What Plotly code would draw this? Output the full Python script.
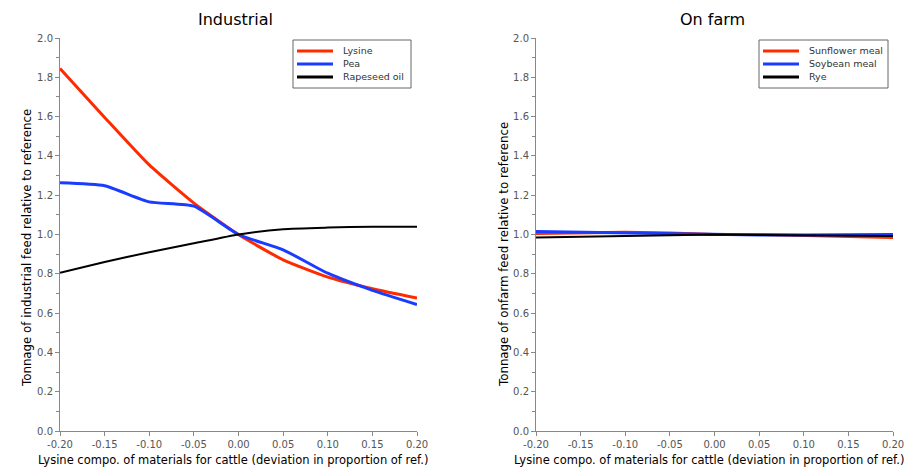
import plotly.graph_objects as go

x_vals = [-0.20, -0.15, -0.10, -0.05, 0.00, 0.05, 0.10, 0.15, 0.20]
x_ticklabels = ["-0.20", "-0.15", "-0.10", "-0.05", "0.00", "0.05", "0.10", "0.15", "0.20"]
y_tickvals = [0.0, 0.2, 0.4, 0.6, 0.8, 1.0, 1.2, 1.4, 1.6, 1.8, 2.0]
y_ticklabels = ["0.0", "0.2", "0.4", "0.6", "0.8", "1.0", "1.2", "1.4", "1.6", "1.8", "2.0"]

# Industrial
lysine = [1.845, 1.596, 1.354, 1.160, 1.000, 0.871, 0.783, 0.724, 0.677]
pea = [1.263, 1.248, 1.166, 1.144, 1.000, 0.922, 0.803, 0.716, 0.644]
rapeseed_oil = [0.805, 0.860, 0.910, 0.955, 1.000, 1.027, 1.035, 1.040, 1.040]

# On farm
sunflower_meal = [1.005, 1.010, 1.012, 1.008, 1.000, 1.000, 0.995, 0.990, 0.985]
soybean_meal = [1.015, 1.012, 1.008, 1.005, 1.000, 0.998, 0.998, 1.000, 1.000]
rye = [0.985, 0.988, 0.993, 0.997, 1.000, 0.998, 0.995, 0.993, 0.992]

RED = "#ff2a00"
BLUE = "#1a3cff"
BLACK = "#000000"
W, H = 904, 470

def px(xp):
    return xp / W

def py(yp):
    return 1 - yp / H

fig = go.Figure()
left = [("Lysine", lysine, RED, 3), ("Pea", pea, BLUE, 3), ("Rapeseed oil", rapeseed_oil, BLACK, 2)]
right = [("Sunflower meal", sunflower_meal, RED, 3), ("Soybean meal", soybean_meal, BLUE, 3), ("Rye", rye, BLACK, 2)]
for name, ys, col, w in left:
    fig.add_trace(go.Scatter(x=x_vals, y=ys, mode="lines", name=name, showlegend=False,
                             line=dict(color=col, width=w, shape="spline", smoothing=0.5),
                             xaxis="x", yaxis="y"))
for name, ys, col, w in right:
    fig.add_trace(go.Scatter(x=x_vals, y=ys, mode="lines", name=name, showlegend=False,
                             line=dict(color=col, width=w),
                             xaxis="x2", yaxis="y2"))

tickfont = dict(family="DejaVu Sans", size=10, color="#555555")

def xaxis(domain, anchor):
    return dict(domain=domain, anchor=anchor, range=[-0.2, 0.2], tickvals=x_vals, ticktext=x_ticklabels,
                ticks="outside", ticklen=4, tickcolor="#888888", showline=True, linecolor="#888888",
                linewidth=1, showgrid=False, zeroline=False, tickfont=tickfont, automargin=False,
                ticklabeloverflow="allow")

def yaxis(domain, anchor):
    return dict(domain=domain, anchor=anchor, range=[0, 2.0], tickvals=y_tickvals, ticktext=y_ticklabels,
                ticks="outside", ticklen=4, tickcolor="#888888", showline=True, linecolor="#888888",
                linewidth=1, showgrid=False, zeroline=False, tickfont=tickfont, automargin=False,
                ticklabeloverflow="allow",
                minor=dict(dtick=0.1, ticks="outside", ticklen=3, tickcolor="#888888"))

annotations = [
    dict(text="Industrial", x=px(235), y=py(20), font=dict(size=16)),
    dict(text="On farm", x=px(712), y=py(20), font=dict(size=16)),
    dict(text="Lysine compo. of materials for cattle (deviation in proportion of ref.)",
         x=px(233), y=py(460), font=dict(size=11.5)),
    dict(text="Lysine compo. of materials for cattle (deviation in proportion of ref.)",
         x=px(709), y=py(460), font=dict(size=11.5)),
    dict(text="Tonnage of industrial feed relative to reference", x=px(27), y=py(248),
         textangle=-90, font=dict(size=11.8)),
    dict(text="Tonnage of onfarm feed relative to reference", x=px(504), y=py(255),
         textangle=-90, font=dict(size=11.8)),
]
for a in annotations:
    a.update(xref="paper", yref="paper", showarrow=False, xanchor="center", yanchor="middle")
    a["font"] = dict(family="DejaVu Sans", color="black", **a["font"])

shapes = []
legend_boxes = [
    (left, 293, 411, 297, 333, 341),
    (right, 759, 888, 763, 799, 807),
]
row_y = [51, 64, 77]
for items, bx0, bx1, lx0, lx1, tx in legend_boxes:
    shapes.append(dict(type="rect", xref="paper", yref="paper", x0=px(bx0), x1=px(bx1),
                       y0=py(88), y1=py(40), line=dict(color="#666666", width=1), fillcolor="white"))
    for (name, _, col, w), ry in zip(items, row_y):
        shapes.append(dict(type="line", xref="paper", yref="paper", x0=px(lx0), x1=px(lx1),
                           y0=py(ry), y1=py(ry), line=dict(color=col, width=3)))
        annotations.append(dict(text=name, xref="paper", yref="paper", x=px(tx), y=py(ry),
                                xanchor="left", yanchor="middle", showarrow=False,
                                font=dict(family="DejaVu Sans", size=9.5, color="#333333")))

fig.update_layout(
    width=W, height=H,
    margin=dict(l=0, r=0, t=0, b=0),
    paper_bgcolor="white", plot_bgcolor="white",
    font=dict(family="DejaVu Sans"),
    showlegend=False,
    xaxis=xaxis([px(60), px(417)], "y"),
    yaxis=yaxis([39 / H, 432 / H], "x"),
    xaxis2=xaxis([px(536), px(893)], "y2"),
    yaxis2=yaxis([39 / H, 432 / H], "x2"),
    annotations=annotations,
    shapes=shapes,
)

fig.write_html("out.html", config={"displayModeBar": False},
               post_script="document.body.style.margin='0';document.body.style.overflow='hidden';")
